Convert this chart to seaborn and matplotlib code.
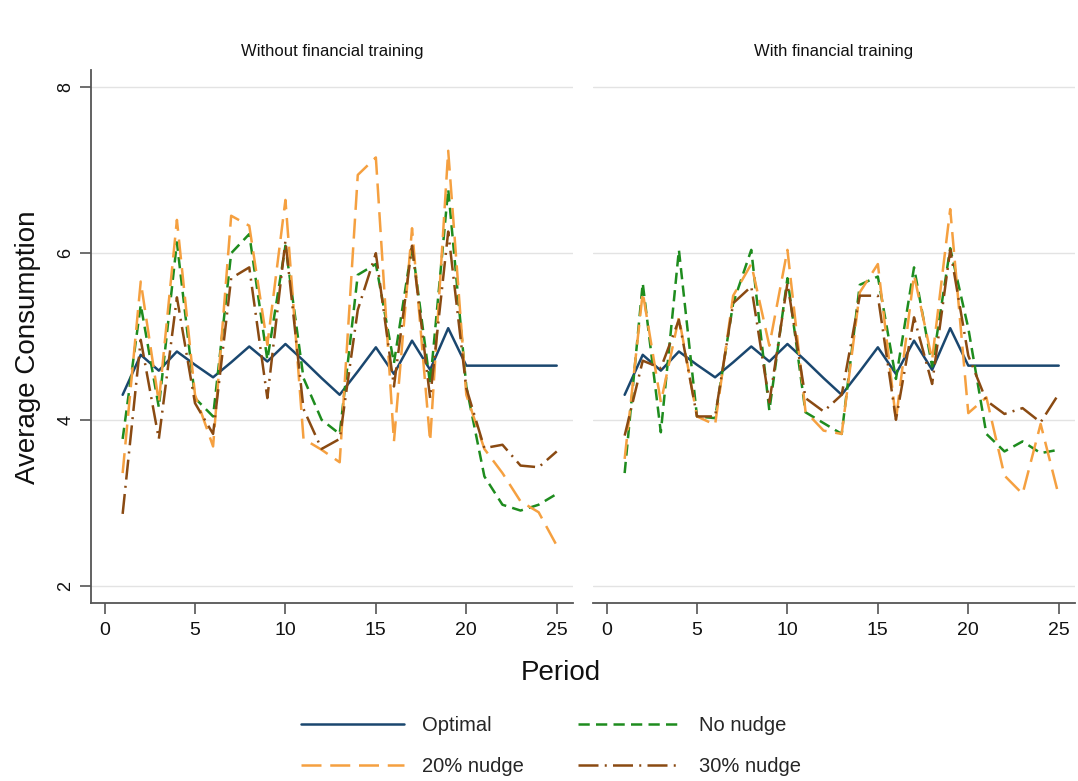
import numpy as np
import pandas as pd
import matplotlib
matplotlib.use("Agg")
import matplotlib.pyplot as plt
from matplotlib.lines import Line2D
import seaborn as sns

sns.set_theme(style="white")
plt.rcParams["font.family"] = ["Liberation Sans", "DejaVu Sans"]

periods = list(range(1, 26))
panels = ["Without financial training", "With financial training"]
series_names = ["Optimal", "No nudge", "20% nudge", "30% nudge"]

optimal = [4.30, 4.78, 4.59, 4.82, 4.66, 4.51, 4.69, 4.88, 4.70, 4.91, 4.71, 4.50,
           4.30, 4.58, 4.87, 4.55, 4.95, 4.60, 5.10, 4.65, 4.65, 4.65, 4.65, 4.65, 4.65]

# Without financial training
no_nudge_wo = [3.77, 5.38, 4.15, 6.13, 4.26, 4.04, 6.00, 6.23, 4.72, 6.09, 4.50, 4.00,
               3.83, 5.74, 5.87, 4.68, 6.09, 4.43, 6.77, 4.40, 3.32, 2.98, 2.91, 2.98, 3.11]
nudge20_wo = [3.36, 5.66, 4.21, 6.40, 4.30, 3.68, 6.45, 6.33, 4.90, 6.64, 3.77, 3.64,
              3.49, 6.94, 7.15, 3.74, 6.30, 3.74, 7.23, 4.30, 3.65, 3.36, 3.02, 2.89, 2.49]
nudge30_wo = [2.87, 4.96, 3.77, 5.47, 4.20, 3.83, 5.70, 5.83, 4.26, 6.15, 4.13, 3.65,
              3.77, 5.32, 6.00, 4.40, 6.09, 4.26, 6.26, 4.38, 3.66, 3.70, 3.45, 3.43, 3.62]

# With financial training
no_nudge_w = [3.36, 5.64, 3.85, 6.04, 4.04, 4.02, 5.40, 6.04, 4.11, 5.70, 4.09, 3.96,
              3.83, 5.62, 5.72, 4.49, 5.83, 4.64, 6.06, 5.10, 3.83, 3.62, 3.74, 3.60, 3.64]
nudge20_w = [3.53, 5.53, 4.21, 5.23, 4.04, 3.94, 5.49, 5.87, 4.89, 6.04, 4.10, 3.87,
             3.83, 5.53, 5.87, 4.00, 5.74, 4.72, 6.53, 4.08, 4.27, 3.33, 3.11, 3.95, 3.09]
nudge30_w = [3.81, 4.71, 4.62, 5.20, 4.04, 4.04, 5.40, 5.60, 4.21, 5.64, 4.26, 4.10,
             4.30, 5.49, 5.49, 4.00, 5.23, 4.43, 6.04, 4.77, 4.23, 4.07, 4.14, 3.97, 4.31]

values = {
    panels[0]: [optimal, no_nudge_wo, nudge20_wo, nudge30_wo],
    panels[1]: [optimal, no_nudge_w, nudge20_w, nudge30_w],
}

rows = []
for panel in panels:
    for name, vals in zip(series_names, values[panel]):
        for p, v in zip(periods, vals):
            rows.append({"panel": panel, "series": name, "period": p, "value": v})
df = pd.DataFrame(rows)

palette = {"Optimal": "#1a476f", "No nudge": "#1e8c1e",
           "20% nudge": "#f5a040", "30% nudge": "#8a4a12"}
dashes = {"Optimal": "",
          "No nudge": (4.5, 2.5),
          "20% nudge": (8, 3.5),
          "30% nudge": (8, 2.5, 0.8, 2.5)}
LW = 1.8

fig = plt.figure(figsize=(10.78, 7.81), dpi=100)
W, H = 1078, 781
bottom = 1 - 603 / H
height = (603 - 70) / H
ax1 = fig.add_axes([91 / W, bottom, (573 - 91) / W, height])
ax2 = fig.add_axes([593 / W, bottom, (1075 - 593) / W, height], sharey=ax1)

for ax, panel in zip([ax1, ax2], panels):
    sub = df[df["panel"] == panel]
    sns.lineplot(data=sub, x="period", y="value", hue="series", style="series",
                 hue_order=series_names, style_order=series_names,
                 palette=palette, dashes=dashes, linewidth=LW,
                 legend=False, ax=ax)
    ax.set_xlim(-0.75, 25.9)
    ax.set_ylim(1.8, 8.2)
    ax.set_xticks([0, 5, 10, 15, 20, 25])
    ax.set_yticks([2, 4, 6, 8])
    ax.yaxis.grid(True, color="#e3e3e3", linewidth=1.0)
    ax.xaxis.grid(False)
    ax.set_axisbelow(True)
    ax.set_xlabel("")
    ax.set_ylabel("")
    ax.set_title(panel, fontsize=12, pad=10, color="#111111")
    for side in ["top", "right"]:
        ax.spines[side].set_visible(False)
    ax.spines["bottom"].set_color("#555555")
    ax.spines["bottom"].set_linewidth(1.3)
    ax.tick_params(axis="x", which="major", bottom=True, length=8, width=1.2,
                   color="#555555", labelsize=14, pad=6, labelcolor="#111111")

ax1.spines["left"].set_color("#555555")
ax1.spines["left"].set_linewidth(1.3)
ax1.tick_params(axis="y", left=True, length=8, width=1.2, color="#555555",
                labelsize=13, pad=4, labelcolor="#111111")
for lbl in ax1.get_yticklabels():
    lbl.set_rotation(90)
    lbl.set_va("center")
ax2.spines["left"].set_visible(False)
ax2.tick_params(axis="y", left=False, labelleft=False)

fig.text(28 / W, 1 - 347 / H, "Average Consumption", rotation=90,
         ha="center", va="center", fontsize=20, color="#111111")
fig.text(561 / W, 1 - 673 / H, "Period", ha="center", va="center",
         fontsize=20, color="#111111")

handles = {n: Line2D([0], [0], color=palette[n], linewidth=LW,
                     linestyle=(0, dashes[n]) if dashes[n] else "-")
           for n in series_names}
# legend fills column-wise: put Optimal / No nudge on the first row
legend_order = ["Optimal", "20% nudge", "No nudge", "30% nudge"]
fig.legend([handles[n] for n in legend_order], legend_order,
           loc="center", bbox_to_anchor=(551 / W, 1 - 746 / H), ncol=2,
           frameon=False, fontsize=14.5, handlelength=5.1, columnspacing=2.7,
           handletextpad=0.9, labelspacing=1.05)

fig.savefig("out.png", dpi=100, facecolor="white")
